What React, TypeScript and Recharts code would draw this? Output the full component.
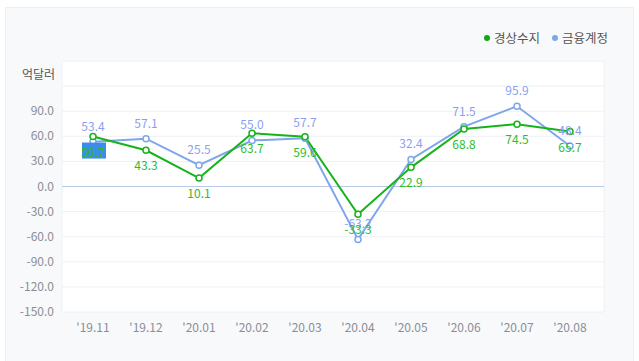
import {
  LineChart,
  Line,
  XAxis,
  YAxis,
  CartesianGrid,
  ReferenceLine,
  LabelList,
} from 'recharts';

const categories = ["'19.11", "'19.12", "'20.01", "'20.02", "'20.03", "'20.04", "'20.05", "'20.06", "'20.07", "'20.08"];
const currentAccount = [59.7, 43.3, 10.1, 63.7, 59.6, -33.3, 22.9, 68.8, 74.5, 65.7];
const financialAccount = [53.4, 57.1, 25.5, 55.0, 57.7, -63.2, 32.4, 71.5, 95.9, 48.4];
const yTicks = [-150, -120, -90, -60, -30, 0, 30, 60, 90, 120, 150];

const GREEN = '#17b31a';
const BLUE = '#7ea6ea';
const FONT = "'Noto Sans CJK KR', 'Noto Sans', sans-serif";

const data = categories.map((month, i) => ({
  month,
  current: currentAccount[i],
  financial: financialAccount[i],
}));

const YTick = ({ x, y, payload }: any) => {
  if (payload.value === 120) return null;
  if (payload.value === 150) {
    return (
      <text x={x + 1} y={y + 18} textAnchor="end" fill="#555" fontSize={12} fontFamily={FONT}>
        억달러
      </text>
    );
  }
  return (
    <text x={x} y={y + 4} textAnchor="end" fill="#8a8e96" fontSize={12} fontFamily={FONT}>
      {payload.value.toFixed(1)}
    </text>
  );
};

const XTick = ({ x, y, payload }: any) => (
  <text x={x} y={y + 12} textAnchor="middle" fill="#8a8e96" fontSize={12} fontFamily={FONT}>
    {payload.value}
  </text>
);

const BlueLabel = ({ x, y, value }: any) => (
  <text x={x} y={y - 11} textAnchor="middle" fill="#8b9ff0" fontSize={12} fontFamily={FONT}>
    {Number(value).toFixed(1)}
  </text>
);

// first green label shows a selection highlight in the source
const GreenLabel = ({ x, y, value, index }: any) => (
  <g>
    {index === 0 && <rect x={x - 11} y={y + 6} width={24} height={16} fill="#3b8ceb" />}
    <text x={x} y={y + 20} textAnchor="middle" fill="#2cbd2c" fontSize={12} fontFamily={FONT}>
      {Number(value).toFixed(1)}
    </text>
  </g>
);

export default function App() {
  return (
    <div
      style={{
        position: 'fixed',
        left: 5,
        top: 7,
        width: 629,
        height: 354,
        boxSizing: 'border-box',
        background: '#f8f9fb',
        border: '1px solid #eceff3',
        borderBottom: 'none',
        fontFamily: FONT,
      }}
    >
      <div
        style={{
          position: 'absolute',
          top: 20,
          right: 25,
          display: 'flex',
          alignItems: 'center',
          fontSize: 12.5,
          color: '#555',
        }}
      >
        <span style={{ width: 6, height: 6, borderRadius: 3, background: '#12a812', marginRight: 4 }} />
        <span style={{ marginRight: 12 }}>경상수지</span>
        <span style={{ width: 6, height: 6, borderRadius: 3, background: BLUE, marginRight: 4 }} />
        <span>금융계정</span>
      </div>
      <LineChart width={627} height={353} data={data} margin={{ top: 53, right: 29, left: 6, bottom: 19 }}>
        <CartesianGrid
          fill="#ffffff"
          stroke="#eef0f4"
          strokeDasharray=""
          verticalPoints={[56, 598]}
        />
        <XAxis
          dataKey="month"
          axisLine={false}
          tickLine={false}
          height={30}
          padding={{ left: 31, right: 34 }}
          tick={<XTick />}
        />
        <YAxis
          width={50}
          domain={[-150, 150]}
          ticks={yTicks}
          axisLine={false}
          tickLine={false}
          interval={0}
          tick={<YTick />}
        />
        <ReferenceLine y={0} stroke="#b9cbe9" />
        <Line
          dataKey="financial"
          stroke={BLUE}
          strokeWidth={2}
          dot={{ r: 3, fill: '#fff', stroke: BLUE, strokeWidth: 1.5 }}
          isAnimationActive={false}
        >
          <LabelList dataKey="financial" content={<BlueLabel />} />
        </Line>
        <Line
          dataKey="current"
          stroke={GREEN}
          strokeWidth={2}
          dot={{ r: 3, fill: '#fff', stroke: GREEN, strokeWidth: 1.5 }}
          isAnimationActive={false}
        >
          <LabelList dataKey="current" content={<GreenLabel />} />
        </Line>
      </LineChart>
    </div>
  );
}
